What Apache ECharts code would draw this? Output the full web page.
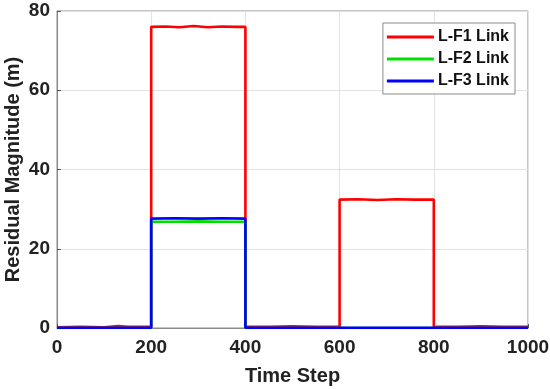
<!DOCTYPE html>
<html>
<head>
<meta charset="utf-8">
<script src="https://cdn.jsdelivr.net/npm/echarts@6/dist/echarts.min.js"></script>
<style>html,body{margin:0;padding:0;background:#fff}#c{width:550px;height:389px}</style>
</head>
<body>
<div id="c"></div>
<script>
const seriesNames = ['L-F1 Link', 'L-F2 Link', 'L-F3 Link'];
const xTicks = [0, 200, 400, 600, 800, 1000];
const yTicks = [0, 20, 40, 60, 80];

const f1X = [0, 50, 100, 130, 150, 200, 200, 230, 260, 290, 320, 350, 380, 400, 400, 450, 500, 550, 600, 600, 640, 680, 720, 760, 800, 800, 850, 900, 950, 1000];
const f1Y = [0.2, 0.3, 0.2, 0.5, 0.3, 0.3, 76.0, 76.1, 75.9, 76.2, 75.9, 76.1, 76.0, 76.0, 0.3, 0.3, 0.4, 0.3, 0.3, 32.4, 32.5, 32.3, 32.5, 32.4, 32.4, 0.3, 0.3, 0.4, 0.3, 0.3];

const f2X = [0, 200, 200, 250, 300, 350, 400, 400, 600, 800, 1000];
const f2Y = [0, 0, 26.8, 26.8, 26.9, 26.8, 26.8, 0, 0, 0, 0];

const f3X = [0, 200, 200, 250, 300, 350, 400, 400, 600, 800, 1000];
const f3Y = [0.05, 0.05, 27.6, 27.7, 27.6, 27.7, 27.6, 0.05, 0.05, 0.05, 0.05];

const colors = ['#ff0000', '#00e000', '#0000ff'];
const pairs = (xs, ys) => xs.map((x, i) => [x, ys[i]]);
const allData = [pairs(f1X, f1Y), pairs(f2X, f2Y), pairs(f3X, f3Y)];

const font = 'Liberation Sans, Arial, sans-serif';
const chart = echarts.init(document.getElementById('c'), null, {renderer: 'canvas'});
chart.setOption({
  animation: false,
  backgroundColor: '#fff',
  grid: {left: 57, right: 22, top: 11, bottom: 61, containLabel: false, outerBoundsMode: 'none',
    show: true, borderColor: '#8a8a8a', borderWidth: 1, backgroundColor: '#fff'},
  legend: {
    right: 35, top: 23, orient: 'vertical',
    backgroundColor: '#fff', borderColor: '#8a8a8a', borderWidth: 1,
    padding: [6, 6, 5, 4], itemGap: 6, itemWidth: 47, itemHeight: 3,
    icon: 'rect',
    textStyle: {fontFamily: font, fontWeight: 'bold', fontSize: 16, color: '#111', padding: [0, 0, 0, -1]},
    data: seriesNames
  },
  xAxis: {
    type: 'value', min: 0, max: 1000, interval: 200,
    name: 'Time Step', nameLocation: 'middle', nameGap: 38, nameMoveOverlap: false,
    nameTextStyle: {fontFamily: font, fontWeight: 'bold', fontSize: 20, color: '#222'},
    axisLine: {show: true, lineStyle: {color: '#8a8a8a'}},
    axisTick: {show: true, inside: true, length: 4, lineStyle: {color: '#555'}},
    axisLabel: {fontFamily: font, fontWeight: 'bold', fontSize: 19, color: '#222', margin: 10,
      formatter: v => xTicks.includes(v) ? String(v) : ''},
    splitLine: {show: true, lineStyle: {color: '#e2e2e2'}}
  },
  yAxis: {
    type: 'value', min: 0, max: 80, interval: 20,
    name: 'Residual Magnitude (m)', nameLocation: 'middle', nameGap: 34, nameRotate: 90, nameMoveOverlap: false,
    nameTextStyle: {fontFamily: font, fontWeight: 'bold', fontSize: 20, color: '#222'},
    axisLine: {show: true, lineStyle: {color: '#8a8a8a'}},
    axisTick: {show: true, inside: true, length: 4, lineStyle: {color: '#555'}},
    axisLabel: {fontFamily: font, fontWeight: 'bold', fontSize: 19, color: '#222', margin: 7,
      formatter: v => yTicks.includes(v) ? String(v) : ''},
    splitLine: {show: true, lineStyle: {color: '#e2e2e2'}}
  },
  series: seriesNames.map((n, i) => ({
    name: n, type: 'line', data: allData[i], symbol: 'none', showSymbol: false,
    lineStyle: {color: colors[i], width: 2.6}, itemStyle: {color: colors[i]}, z: 2 + i
  }))
});
</script>
</body>
</html>
